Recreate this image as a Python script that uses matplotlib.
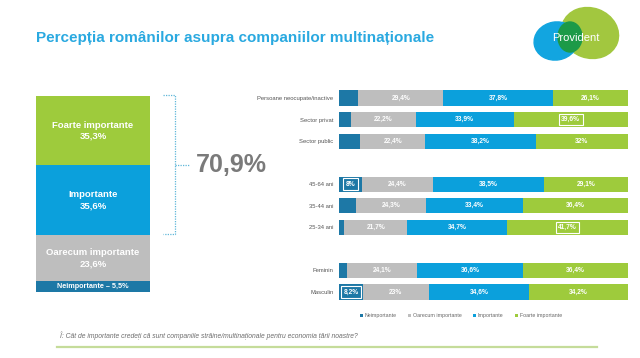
import matplotlib
matplotlib.use("Agg")
import matplotlib.pyplot as plt
from matplotlib.patches import Ellipse, Rectangle
import numpy as np

plt.rcParams['font.family'] = ['Liberation Sans', 'DejaVu Sans']

# ---- data ----
title = "Percepția românilor asupra companiilor multinaționale"
series_names = ["Neimportante", "Oarecum importante", "Importante", "Foarte importante"]
colors = ["#1d78a6", "#bebebe", "#0ba0dc", "#9ecb3c"]

categories = ["Persoane neocupate/inactive", "Sector privat", "Sector public",
              "45-64 ani", "35-44 ani", "25-34 ani", "Feminin", "Masculin"]
cat_pos = [0, 1, 2, 4, 5, 6, 8, 9]
neimportante = [6.7, 4.3, 7.4, 8.0, 5.9, 1.9, 2.9, 8.2]
oarecum = [29.4, 22.2, 22.4, 24.4, 24.3, 21.7, 24.1, 23.0]
importante = [37.8, 33.9, 38.2, 38.5, 33.4, 34.7, 36.6, 34.6]
foarte = [26.1, 39.6, 32.0, 29.1, 36.4, 41.7, 36.4, 34.2]
neimp_labels = ["", "", "", "8%", "", "", "", "8,2%"]
oarecum_labels = ["29,4%", "22,2%", "22,4%", "24,4%", "24,3%", "21,7%", "24,1%", "23%"]
importante_labels = ["37,8%", "33,9%", "38,2%", "38,5%", "33,4%", "34,7%", "36,6%", "34,6%"]
foarte_labels = ["26,1%", "39,6%", "32%", "29,1%", "36,4%", "41,7%", "36,4%", "34,2%"]
boxed = {(0, 3), (0, 7), (3, 1), (3, 5)}  # (series, row) with white frame

total_names = ["Neimportante", "Oarecum importante", "Importante", "Foarte importante"]
total_values = [5.5, 23.6, 35.6, 35.3]
total_labels = ["Neimportante – 5,5%", "Oarecum importante\n23,6%",
                "Importante\n35,6%", "Foarte importante\n35,3%"]
top2_label = "70,9%"
question = "Î: Cât de importante credeți că sunt companiile străine/multinaționale pentru economia țării noastre?"

W, H = 640, 358
fig = plt.figure(figsize=(W / 100, H / 100), dpi=100)
fig.patch.set_facecolor("white")

def fx(px):
    return px / W

def fy(py):
    return 1 - py / H

# ---- overlay axes in pixel coords ----
ov = fig.add_axes([0, 0, 1, 1])
ov.set_xlim(0, W)
ov.set_ylim(H, 0)
ov.axis("off")

ov.text(36, 38, title, color="#2aa9e0", fontsize=11, fontweight="bold", va="center", ha="left")

# logo
ov.add_patch(Ellipse((556, 41), 44, 38, angle=-10, color="#12a5e0", zorder=2))
ov.add_patch(Ellipse((590, 33), 58, 50, angle=20, color="#a2c73f", zorder=1))
ov.add_patch(Ellipse((570, 37), 24, 30, angle=0, color="#1c9a48", zorder=3))
ov.text(576, 38, "Provident", color="white", fontsize=8, va="center", ha="center", zorder=4)

# bracket
bc = "#5fb7d8"
ov.plot([163, 175, 175, 163], [95, 95, 234, 234], color=bc, lw=0.9, ls=(0, (1, 1)))
ov.plot([175, 190], [165, 165], color=bc, lw=0.9, ls=(0, (1, 1)))
ov.text(196, 165, top2_label, color="#7a7a7a", fontsize=18, fontweight="bold", va="center", ha="left")

# footer
ov.text(60, 336, question, color="#6d6d6d", fontsize=4.9, style="italic", va="center", ha="left")
ov.plot([57, 597], [347, 347], color="#c5dc9a", lw=1.6)

# ---- left total bar ----
axl = fig.add_axes([fx(36), fy(292), fx(150) - fx(36), (292 - 96) / H])
bottom = 0
lcolors = [colors[0], colors[1], colors[2], colors[3]]
for v, c, lab, i in zip(total_values, lcolors, total_labels, range(4)):
    axl.bar([0], [v], bottom=bottom, width=1, color=c, edgecolor="none")
    fs = 5.2 if i == 0 else 6.8
    axl.text(0, bottom + v / 2, lab, color="white", fontsize=fs, fontweight="bold",
             ha="center", va="center", linespacing=1.3)
    bottom += v
axl.set_xlim(-0.5, 0.5)
axl.set_ylim(0, 100)
axl.axis("off")

# ---- right stacked bars ----
px_per_unit = (292 - 98) / 9
y_top = 98 - 0.5 * px_per_unit
y_bot = 292 + 0.5 * px_per_unit
axr = fig.add_axes([fx(339), fy(y_bot), (628 - 339) / W, (y_bot - y_top) / H])
series = [neimportante, oarecum, importante, foarte]
labels = [neimp_labels, oarecum_labels, importante_labels, foarte_labels]
left = np.zeros(len(categories))
handles = []
for si, (vals, c, name) in enumerate(zip(series, colors, series_names)):
    b = axr.barh(cat_pos, vals, left=left, height=0.7, color=c, edgecolor="none", label=name)
    handles.append(b)
    for ri, (v, lab) in enumerate(zip(vals, labels[si])):
        if lab:
            xc = left[ri] + v / 2
            t = axr.text(xc, cat_pos[ri], lab, color="white", fontsize=4.8, fontweight="bold",
                         ha="center", va="center")
            if (si, ri) in boxed:
                t.set_bbox(dict(boxstyle="square,pad=0.35", fc="none", ec="white", lw=0.8))
    left = left + np.array(vals)
axr.set_xlim(0, 100)
axr.set_ylim(9.5, -0.5)
axr.set_yticks(cat_pos)
axr.set_yticklabels(categories, fontsize=4.2, color="#555555")
axr.tick_params(axis="y", length=0, pad=4)
axr.set_xticks([])
for s in axr.spines.values():
    s.set_visible(False)

fig.legend(handles=handles, labels=series_names, loc="center left",
           bbox_to_anchor=(fx(355), fy(316)), ncol=4, frameon=False,
           fontsize=3.8, handlelength=0.6, handleheight=0.6, handletextpad=0.3,
           columnspacing=2.2, labelcolor="#666666")

fig.savefig("out.png", dpi=100, facecolor="white")
